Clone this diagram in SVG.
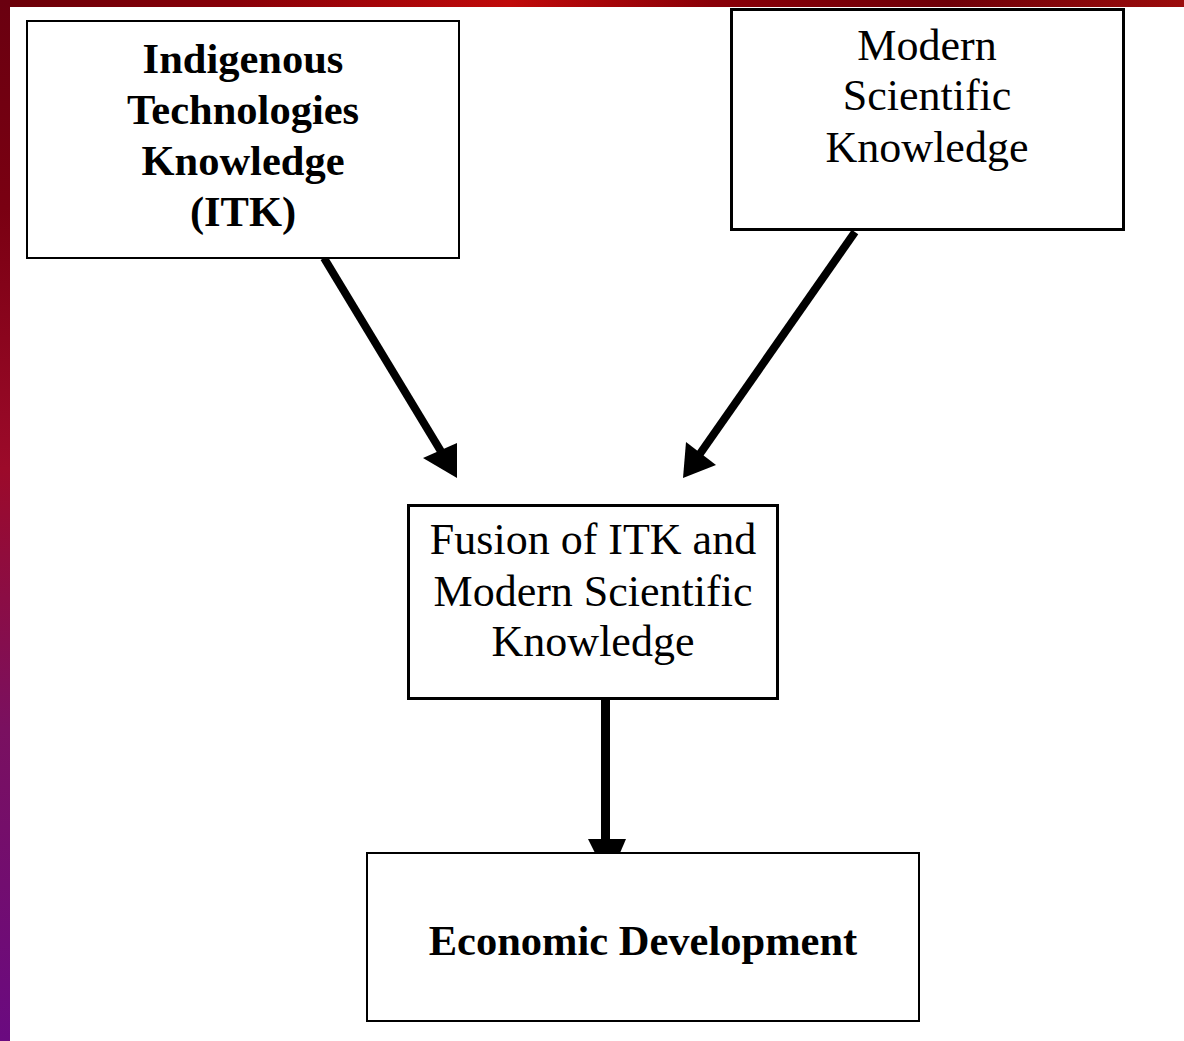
<svg xmlns="http://www.w3.org/2000/svg" width="1184" height="1041" viewBox="0 0 1184 1041">
<style>
.box{fill:#fff;stroke:#000}
.thin{stroke-width:2}
.thick{stroke-width:3}
.bold{font-family:"Liberation Serif","Times New Roman",serif;font-weight:bold;font-size:42.5px;text-anchor:middle;fill:#000}
.reg{font-family:"Liberation Serif","Times New Roman",serif;font-size:44px;text-anchor:middle;fill:#000}
.line{stroke:#000;fill:none}
</style>
<defs>
<linearGradient id="top" x1="0" y1="0" x2="1" y2="0">
<stop offset="0" stop-color="#6a0008"/>
<stop offset="0.2" stop-color="#880008"/>
<stop offset="0.43" stop-color="#c00a0a"/>
<stop offset="0.6" stop-color="#8a0008"/>
<stop offset="0.8" stop-color="#6e0008"/>
<stop offset="1" stop-color="#9c0c0c"/>
</linearGradient>
<linearGradient id="left" x1="0" y1="0" x2="0" y2="1">
<stop offset="0" stop-color="#6a0010"/>
<stop offset="0.2" stop-color="#7a0012"/>
<stop offset="0.45" stop-color="#9c0a2a"/>
<stop offset="0.7" stop-color="#7a1060"/>
<stop offset="1" stop-color="#6a0a80"/>
</linearGradient>
</defs>
<rect x="0" y="0" width="1184" height="1041" fill="#fff"/>
<rect x="0" y="0" width="1184" height="7" fill="url(#top)"/>
<rect x="0" y="0" width="10" height="1041" fill="url(#left)"/>

<g id="connectors">
<line class="line" x1="324" y1="258" x2="445" y2="458" stroke-width="8"/>
<polygon points="457,443 423,458 457,478" fill="#000"/>
<line class="line" x1="855" y1="232" x2="697" y2="458" stroke-width="8"/>
<polygon points="686,442 716,465 683,478" fill="#000"/>
<line class="line" x1="605.5" y1="699" x2="605.5" y2="842" stroke-width="9"/>
<polygon points="588,839 626,839 620,853 595,853" fill="#000"/>
</g>

<g id="itk">
<rect class="box thin" x="27" y="21" width="432" height="237"/>
<text class="bold" x="243" y="73">Indigenous</text>
<text class="bold" x="243" y="124">Technologies</text>
<text class="bold" x="243" y="175">Knowledge</text>
<text class="bold" x="243" y="226">(ITK)</text>
</g>

<g id="modern">
<rect class="box thick" x="731.5" y="9.5" width="392" height="220"/>
<text class="reg" x="927" y="60">Modern</text>
<text class="reg" x="927" y="110">Scientific</text>
<text class="reg" x="927" y="162">Knowledge</text>
</g>

<g id="fusion">
<rect class="box thick" x="408.5" y="505.5" width="369" height="193"/>
<text class="reg" x="593" y="554">Fusion of ITK and</text>
<text class="reg" x="593" y="606">Modern Scientific</text>
<text class="reg" x="593" y="656">Knowledge</text>
</g>

<g id="econ">
<rect class="box thin" x="367" y="853" width="552" height="168"/>
<text class="bold" x="643" y="955">Economic Development</text>
</g>
</svg>
